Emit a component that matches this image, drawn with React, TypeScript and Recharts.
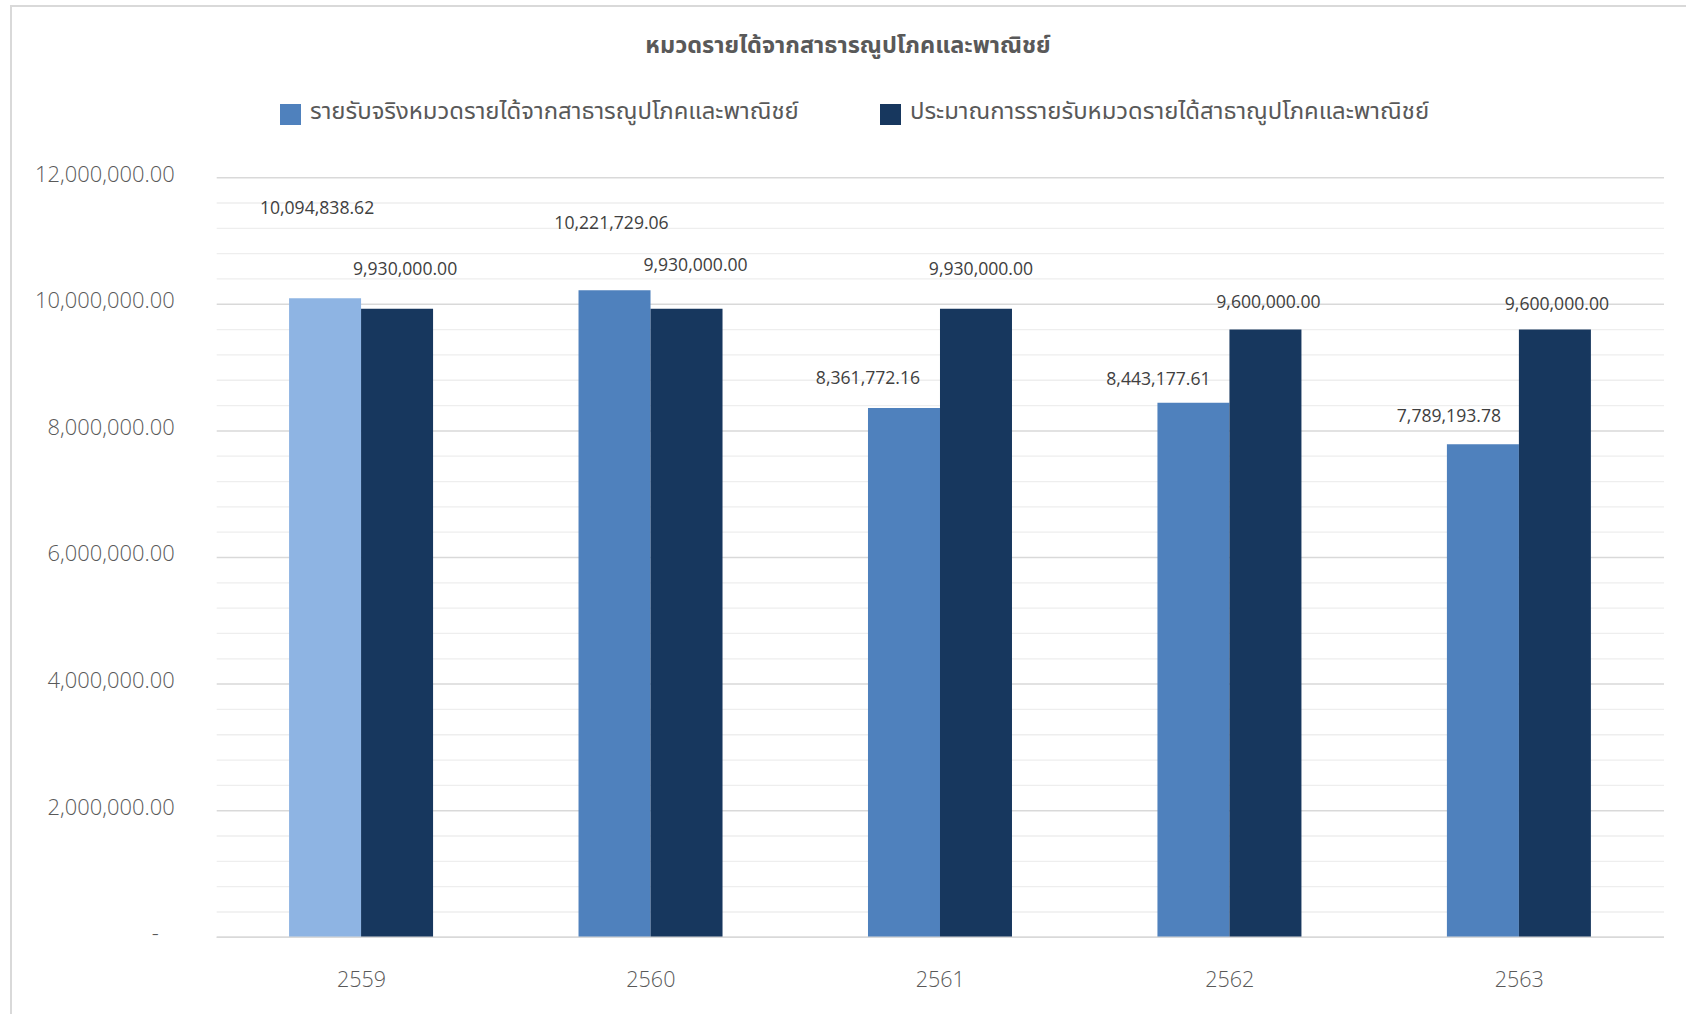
import React from 'react';
import { BarChart, Bar, XAxis, YAxis, CartesianGrid, Legend, LabelList, Cell } from 'recharts';

const years = ['2559', '2560', '2561', '2562', '2563'];
const actualRevenue = [10094838.62, 10221729.06, 8361772.16, 8443177.61, 7789193.78];
const budgetRevenue = [9930000, 9930000, 9930000, 9600000, 9600000];
const seriesNames = [
  'รายรับจริงหมวดรายได้จากสาธารณูปโภคและพาณิชย์',
  'ประมาณการรายรับหมวดรายได้สาธาณูปโภคและพาณิชย์',
];
const chartTitle = 'หมวดรายได้จากสาธารณูปโภคและพาณิชย์';
const majorTicks = [0, 2000000, 4000000, 6000000, 8000000, 10000000, 12000000];
const minorTicks = [
  400000, 800000, 1200000, 1600000, 2400000, 2800000, 3200000, 3600000,
  4400000, 4800000, 5200000, 5600000, 6400000, 6800000, 7200000, 7600000,
  8400000, 8800000, 9200000, 9600000, 10400000, 10800000, 11200000, 11600000,
];

// label nudges (style only): [dx, dy] relative to bar top-centre
const actualLabelNudge = [[-8, -91], [-3, -68], [-36, -31], [-35, -25], [-34, -29]];
const budgetLabelNudge = [[8, -41], [9, -45], [5, -41], [3, -29], [2, -27]];

const data = years.map((y, i) => ({ year: y, actual: actualRevenue[i], budget: budgetRevenue[i] }));

const COLOR_ACTUAL = '#4F81BD';
const COLOR_ACTUAL_FIRST = '#8EB4E3';
const COLOR_BUDGET = '#17375E';
const FONT = "'Noto Sans Thai', 'Leelawadee UI', Tahoma, 'Open Sans', 'Noto Sans', sans-serif";
const NUM_FONT = "'Open Sans', 'Noto Sans', sans-serif";

const fmt = (v: number) =>
  v.toLocaleString('en-US', { minimumFractionDigits: 2, maximumFractionDigits: 2 });

const YTick = (props: any) => {
  const { x, y, payload } = props;
  const v = payload.value;
  return (
    <text
      x={v === 0 ? x - 16 : x}
      y={y}
      dy={4}
      textAnchor="end"
      fill="#595959"
      fontSize={21.9}
      fontWeight={300}
      fontFamily={NUM_FONT}
    >
      {v === 0 ? '-' : fmt(v)}
    </text>
  );
};

const makeLabel = (nudges: number[][]) => (props: any) => {
  const { x, y, width, value, index } = props;
  const [dx, dy] = nudges[index] || [0, -20];
  return (
    <text
      x={Number(x) + Number(width) / 2 + dx}
      y={Number(y) + dy}
      textAnchor="middle"
      dominantBaseline="central"
      fill="#404040"
      fontSize={17.6}
      fontFamily={NUM_FONT}
    >
      {fmt(Number(value))}
    </text>
  );
};

const LegendContent = () => (
  <div style={{ position: 'relative', width: 1686, height: 177.7 }}>
    {[0, 1].map((i) => (
      <div key={i}>
        <div
          style={{
            position: 'absolute',
            left: i === 0 ? 280 : 880,
            top: 104,
            width: 21,
            height: 21,
            background: i === 0 ? COLOR_ACTUAL : COLOR_BUDGET,
          }}
        />
        <div
          style={{
            position: 'absolute',
            left: i === 0 ? 310 : 910,
            top: 112,
            transform: 'translateY(-50%)',
            fontSize: 23.9,
            color: '#595959',
            fontFamily: FONT,
            whiteSpace: 'nowrap',
            lineHeight: 1.2,
          }}
        >
          {seriesNames[i]}
        </div>
      </div>
    ))}
  </div>
);

export default function App() {
  return (
    <div style={{ position: 'absolute', left: 0, top: 0, width: 1686, height: 1014, background: '#fff', overflow: 'hidden' }}>
      <div
        style={{
          position: 'absolute',
          left: 10,
          top: 5,
          width: 1700,
          height: 1100,
          borderLeft: '2px solid #d9d9d9',
          borderTop: '2px solid #d9d9d9',
        }}
      />
      <div
        style={{
          position: 'absolute',
          left: 0,
          width: 1696,
          top: 46,
          transform: 'translateY(-50%)',
          textAlign: 'center',
          fontFamily: FONT,
          fontWeight: 700,
          fontSize: 23.5,
          color: '#595959',
          lineHeight: 1.2,
          zIndex: 2,
        }}
      >
        {chartTitle}
      </div>
      <div style={{ position: 'absolute', left: 0, top: 0 }}>
        <BarChart
          width={1686}
          height={1014}
          data={data}
          margin={{ top: 0, right: 22, bottom: 0, left: 0 }}
          barCategoryGap="25%"
          barGap={0}
        >
          <Legend
            verticalAlign="top"
            align="left"
            content={<LegendContent />}
            wrapperStyle={{ top: 0, left: 0, width: 1686, height: 177.7, margin: 0, padding: 0 }}
          />
          <YAxis
            domain={[0, 12000000]}
            ticks={majorTicks}
            type="number"
            width={216.7}
            axisLine={false}
            tickLine={false}
            tickSize={0}
            tickMargin={42}
            tick={<YTick />}
            interval={0}
          />
          <CartesianGrid vertical={false} horizontalValues={minorTicks} stroke="#eeeeee" strokeWidth={1.3} />
          <CartesianGrid vertical={false} horizontalValues={majorTicks} stroke="#d9d9d9" strokeWidth={1.5} />
          <XAxis
            dataKey="year"
            height={76.7}
            axisLine={{ stroke: '#d9d9d9', strokeWidth: 1.5 }}
            tickLine={false}
            tickSize={0}
            tickMargin={34}
            tick={{ fill: '#595959', fontSize: 21.5, fontWeight: 300, fontFamily: NUM_FONT }}
          />
          <Bar dataKey="actual" name={seriesNames[0]} fill={COLOR_ACTUAL} isAnimationActive={false}>
            {data.map((_, i) => (
              <Cell key={i} fill={i === 0 ? COLOR_ACTUAL_FIRST : COLOR_ACTUAL} />
            ))}
            <LabelList dataKey="actual" content={makeLabel(actualLabelNudge)} />
          </Bar>
          <Bar dataKey="budget" name={seriesNames[1]} fill={COLOR_BUDGET} isAnimationActive={false}>
            <LabelList dataKey="budget" content={makeLabel(budgetLabelNudge)} />
          </Bar>
        </BarChart>
      </div>
    </div>
  );
}
